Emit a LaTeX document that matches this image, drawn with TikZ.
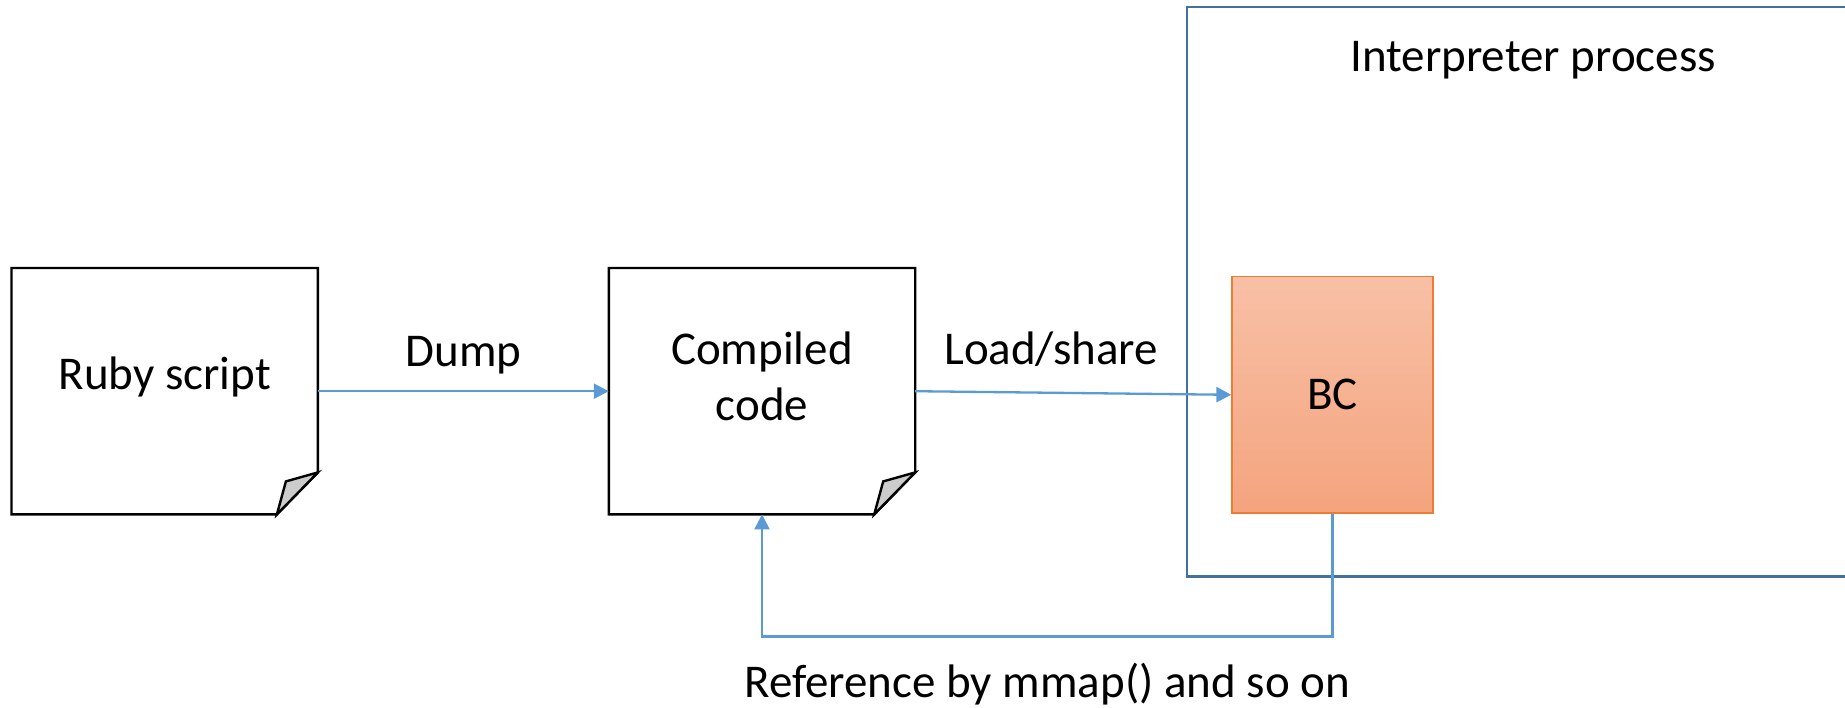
\documentclass[tikz,border=0pt]{standalone}
\usepackage{fontspec}
\setmainfont{Carlito}
\usetikzlibrary{arrows.meta,calc}

\definecolor{linkblue}{HTML}{5B9BD5}
\definecolor{boxblue}{HTML}{41719C}
\definecolor{bcedge}{HTML}{ED7D31}
\definecolor{bctop}{HTML}{F8C0A6}
\definecolor{bcbottom}{HTML}{F4A47E}
\definecolor{foldgray}{HTML}{CCCCCC}

% sheet of paper with a dog-eared lower right corner, drawn round a named node
\newcommand\paperoutline[1]{%
  \draw[paperline] (#1.north west) -- (#1.north east)
    -- ($(#1.south east)+(0,-42)$) -- ($(#1.south east)+(-41,0)$)
    -- (#1.south west) -- cycle;
  \draw[paperline, fill=foldgray] ($(#1.south east)+(-41,0)$)
    -- ($(#1.south east)+(-32,-33)$) -- ($(#1.south east)+(0,-42)$) -- cycle;}

\begin{document}
\begin{tikzpicture}[x=1pt, y=-1pt,
  font=\fontsize{47}{56.5}\selectfont,
  paper/.style={minimum width=306pt, minimum height=246pt, inner sep=0pt, draw=none},
  paperline/.style={draw=black, line width=2.4pt, line join=miter},
  doctext/.style={inner sep=0pt, align=center},
  container/.style={draw=boxblue, line width=2.7pt, minimum width=693pt,
    minimum height=569.5pt, inner sep=0pt},
  bcbox/.style={draw=bcedge, line width=1.3pt, top color=bctop, bottom color=bcbottom,
    minimum width=201pt, minimum height=236.5pt, inner sep=0pt},
  link/.style={draw=linkblue, line width=2.3pt, -{Triangle[length=15pt, width=15pt]}},
  edgetext/.style={anchor=base, inner sep=0pt}]
\useasboundingbox (0,0) rectangle (1845,707);
\clip (0,0) rectangle (1845,707);

% process container and the loaded byte code
\node[container] (interp) at (1533.6,291.8) {};
\node[edgetext] (interpt) at (1533,71.7) {Interpreter process};
\node[bcbox] (bc) at (1332.5,394.8) {BC};

% source and compiled files
\node[paper] (rb) at (164.7,391.2) {};
\node[paper] (cc) at (762,391.2) {};
\paperoutline{rb}
\paperoutline{cc}
\node[doctext] (rbt) at ($(rb.center)+(0,-14)$) {Ruby script};
\node[doctext] (cct) at ($(cc.center)+(0,-15)$) {Compiled\\code};

% data flow
\draw[link] (rb.east) -- node[edgetext, yshift=25pt] (dumpt) {Dump} (cc.west);
\draw[link] (cc.east) -- node[edgetext, pos=0.43, yshift=28pt] (loadt) {Load/share} (bc.west);
\coordinate (low) at (0,636.6);
\draw[link] (bc.south) -- (bc.south |- low)
  -| node[edgetext, pos=0.25, yshift=-61pt] (reft) {Reference by mmap() and so on} (cc.south);
\end{tikzpicture}
\end{document}
